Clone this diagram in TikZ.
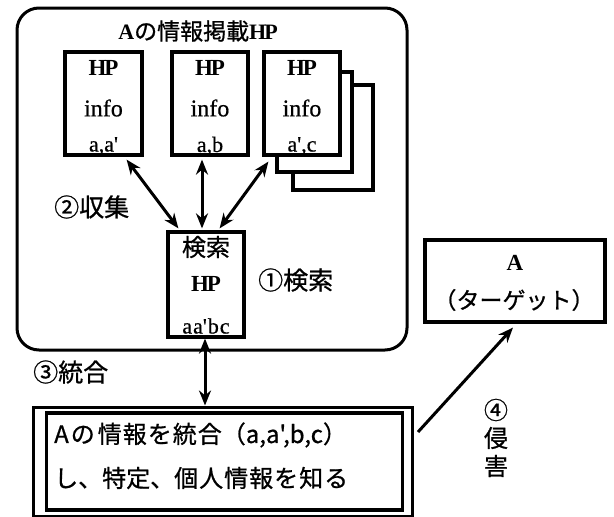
\documentclass[tikz,border=0pt]{standalone}
\usepackage{fontspec}
\newfontfamily\ser{Liberation Serif}[FakeBold=0.6]
\newfontfamily\serb{Liberation Serif Bold}
\newfontfamily\jp{Noto Sans CJK JP}[FakeBold=0.8]
\usetikzlibrary{arrows.meta}
\begin{document}
\begin{tikzpicture}[x=1pt,y=-1pt,
  page/.style={draw,line width=3.2pt,fill=white,inner sep=0pt},
  lbl/.style={inner sep=0pt,font=\ser\fontsize{24}{26}\selectfont},
  vlbl/.style={inner sep=0pt,font=\ser\fontsize{22}{24}\selectfont},
  hplbl/.style={inner sep=0pt,font=\serb\fontsize{23}{24}\selectfont},
  jlbl/.style={inner sep=0pt,font=\jp\fontsize{24}{26}\selectfont},
  biarrow/.style={line width=3pt,{Stealth[length=15pt,width=12pt]}-{Stealth[length=15pt,width=12pt]}},
  onearrow/.style={line width=3pt,-{Stealth[length=15pt,width=12pt]}}]
\useasboundingbox (0,0) rectangle (614,517);
% outer rounded frame
\draw[line width=3pt,rounded corners=22pt] (17,8) rectangle (407,350);
\node[inner sep=0pt] (title) at (198,31) {{\serb\fontsize{22}{24}\selectfont A}{\jp\fontsize{23}{24}\selectfont の情報掲載}{\serb\fontsize{22}{24}\selectfont H\kern-2pt P}};
% pages
\node[page,minimum width=80pt,minimum height=105pt] (hp3c) at (333,137.5) {};
\node[page,minimum width=75pt,minimum height=100pt] (hp3b) at (314.5,122) {};
\node[page,minimum width=77pt,minimum height=103pt] (hp1) at (103.5,103.5) {};
\node[page,minimum width=76pt,minimum height=103pt] (hp2) at (210,103.5) {};
\node[page,minimum width=76pt,minimum height=103pt] (hp3) at (302,103.5) {};
\foreach \n/\x/\t in {a/103.5/{a,a'},b/210/{a,b},c/302/{a',c}}{
  \node[hplbl] (hpt\n) at (\x,68) {H\kern-2pt P};
  \node[lbl] (inf\n) at (\x,108) {info};
  \node[vlbl] (val\n) at (\x,146) {\t};
}
% search box
\node[page,minimum width=76pt,minimum height=105pt] (search) at (206,284.5) {};
\node[jlbl] (s1) at (206,247) {検索};
\node[hplbl] (s2) at (206,284) {H\kern-2pt P};
\node[vlbl] (s3) at (206,326) {a\kern1pt a'\kern1pt b\kern1pt c};
\node[jlbl,anchor=west,font=\jp\fontsize{25}{26}\selectfont] (l1) at (258,280) {①検索};
\node[jlbl,anchor=west,font=\jp\fontsize{25}{26}\selectfont] (l2) at (54,207) {②収集};
% arrows pages <-> search
\draw[biarrow] ([xshift=-17pt,yshift=-3pt]hp1.south east) -- ([xshift=12pt,yshift=2pt]search.north west);
\draw[biarrow] ([xshift=-8pt,yshift=-3pt]hp2.south) -- ([xshift=-4pt,yshift=2pt]search.north);
\draw[biarrow] ([xshift=6pt,yshift=-5pt]hp3.south west) -- ([xshift=-26pt,yshift=2pt]search.north east);
% integration box
\node[draw,line width=3pt,minimum width=379pt,minimum height=109pt,inner sep=0pt] (integ) at (222.5,461.5) {};
\node[draw,line width=3.2pt,minimum width=356pt,minimum height=97pt,inner sep=0pt] (integin) at (224.5,461.5) {};
\node[jlbl,anchor=west] (i1) at (54,435) {A\hspace{2pt}の\hspace{3pt}情\hspace{1pt}報\hspace{1pt}を\hspace{1pt}統\hspace{1pt}合（a,a',b,c）};
\node[jlbl,anchor=west] (i2) at (54,478) {し、特定、個\hspace{1pt}人\hspace{1pt}情\hspace{1pt}報\hspace{1pt}を\hspace{1pt}知\hspace{1pt}る};
\node[jlbl,anchor=west,font=\jp\fontsize{25}{26}\selectfont] (l3) at (33,372) {③統合};
\draw[biarrow] ([xshift=-1pt]search.south) -- ([xshift=-1pt]search.south |- integ.north);
% target
\node[draw,line width=3.2pt,minimum width=180pt,minimum height=82pt,inner sep=0pt] (target) at (515,281) {};
\node[hplbl] (t1) at (515,263) {A};
\node[jlbl,font=\jp\fontsize{23}{24}\selectfont] (t2) at (514,300) {（ターゲット）};
\coordinate (st) at (418,432);
\draw[onearrow] (st) -- ([xshift=-2pt,yshift=-4pt]target.south);
\node[jlbl] (l4a) at (496,410) {④};
\node[jlbl] (l4b) at (496,438) {侵};
\node[jlbl] (l4c) at (496,466) {害};
\end{tikzpicture}
\end{document}
